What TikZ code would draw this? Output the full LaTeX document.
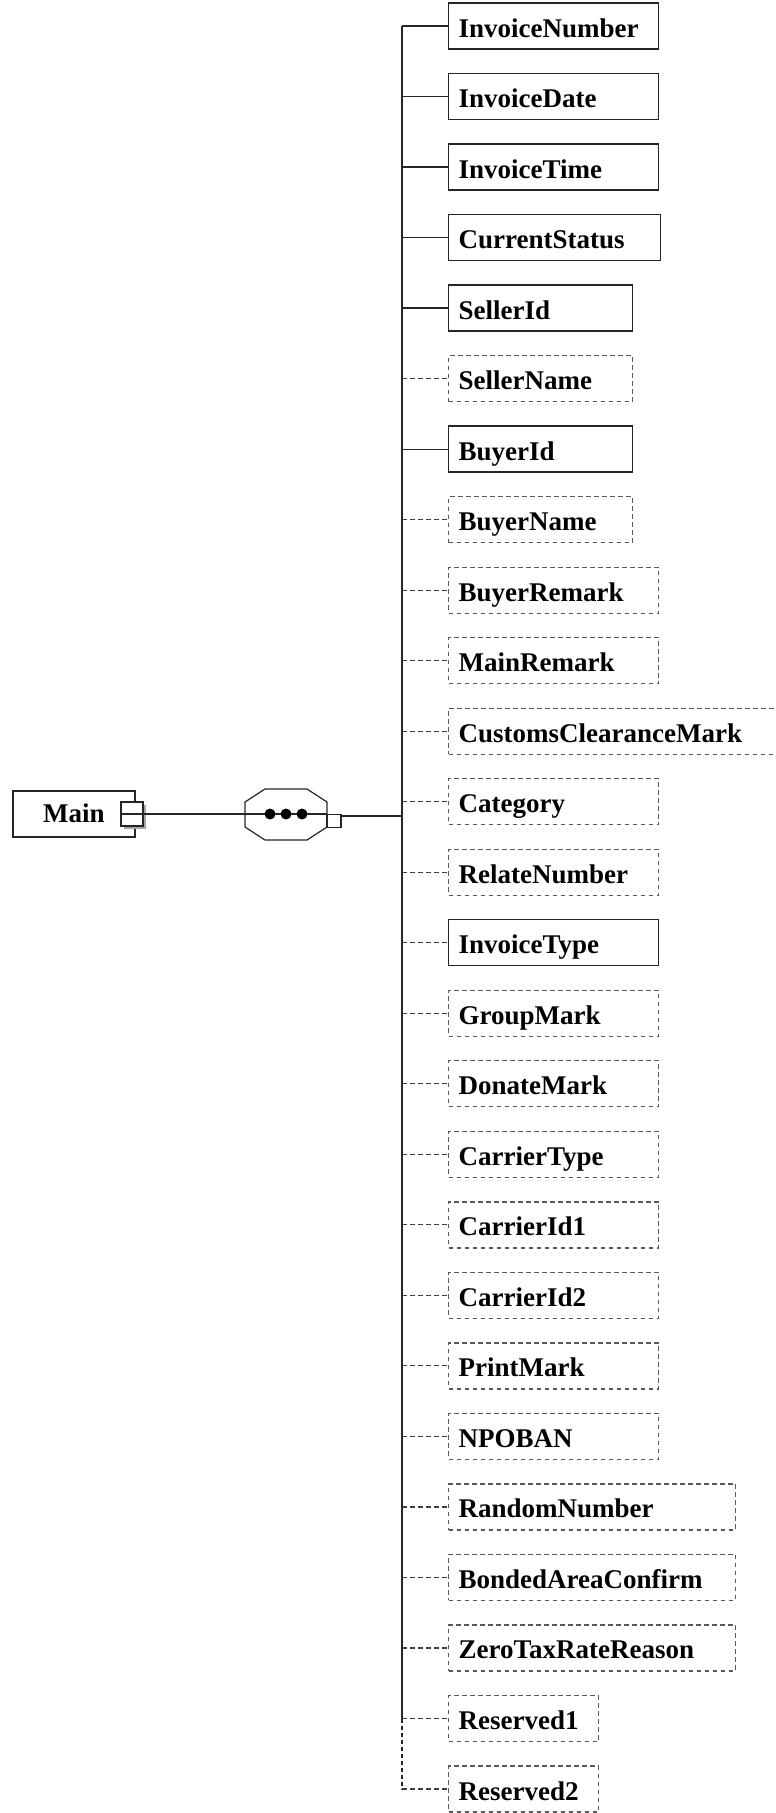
\documentclass[tikz,border=0pt]{standalone}
\usepackage{fontspec}
\setmainfont{Liberation Serif}
\begin{document}
\begin{tikzpicture}[x=1pt,y=-1pt,
  lblfont/.style={font=\fontsize{27}{30}\selectfont\bfseries},
  elbox/.style={lblfont, anchor=west, minimum height=46pt, inner xsep=10pt, inner ysep=0pt,
    text height=22pt, text depth=0pt, align=left, line width=1.3pt},
  elsolid/.style={elbox, draw=black!85},
  eldash/.style={elbox, draw=black!65, dash pattern=on 4.5pt off 3.5pt},
  consolid/.style={draw=black!85, line width=1.2pt},
  condash/.style={draw=black!75, line width=1.2pt, dash pattern=on 4.5pt off 3.5pt},
  spine/.style={draw=black!85, line width=2pt},
]
\useasboundingbox (0,0) rectangle (776,1813);
\coordinate (sp) at (402,0);

% Main element
\node[lblfont, draw=black!85, line width=1.2pt, minimum width=122pt, minimum height=46pt,
  text height=16pt, text depth=0pt, inner sep=0pt] (main) at (74,814) {Main};
\fill[black!35] (124,805) rectangle (146,829);
\node[draw=black!85, fill=white, line width=1.3pt, minimum width=22pt, minimum height=24pt, inner sep=0pt] (mq) at (132,814) {};
\draw[black!85, line width=1.2pt] (mq.west) -- (mq.east);

% Sequence compositor
\node[minimum width=82pt, minimum height=51pt, inner sep=0pt] (seq) at (286,814) {};
\draw[black!85, line width=1.2pt, fill=white]
  (265,789) -- (307,789) -- (327,802) -- (327,827) -- (307,840) -- (265,840) -- (245,827) -- (245,802) -- cycle;
\draw[black!85, line width=1.2pt] (mq.east) -- (seq.west);
\draw[black!85, line width=1.2pt] (seq.west) -- (seq.east);
\foreach \dx in {270,286,302} \fill[black] (\dx,814) circle (5.5pt);
\node[draw=black!85, fill=white, line width=1.2pt, minimum width=14pt, minimum height=13pt, inner sep=0pt] (cq) at (334,821) {};
\coordinate (cqo) at (341,815.5);
\draw[spine] (cqo) -- (cqo -| sp);

% Child elements
\foreach \i/\nm/\rx/\bs/\cs in {
  0/InvoiceNumber/658/elsolid/consolid,
  1/InvoiceDate/658/elsolid/consolid,
  2/InvoiceTime/658/elsolid/consolid,
  3/CurrentStatus/660/elsolid/consolid,
  4/SellerId/632/elsolid/consolid,
  5/SellerName/632/eldash/condash,
  6/BuyerId/632/elsolid/consolid,
  7/BuyerName/632/eldash/condash,
  8/BuyerRemark/658/eldash/condash,
  9/MainRemark/658/eldash/condash,
  10/CustomsClearanceMark/775.5/eldash/condash,
  11/Category/658/eldash/condash,
  12/RelateNumber/658/eldash/condash,
  13/InvoiceType/658/elsolid/condash,
  14/GroupMark/658/eldash/condash,
  15/DonateMark/658/eldash/condash,
  16/CarrierType/658/eldash/condash,
  17/CarrierId1/658/eldash/condash,
  18/CarrierId2/658/eldash/condash,
  19/PrintMark/658/eldash/condash,
  20/NPOBAN/658/eldash/condash,
  21/RandomNumber/735/eldash/condash,
  22/BondedAreaConfirm/735/eldash/condash,
  23/ZeroTaxRateReason/735/eldash/condash,
  24/Reserved1/598/eldash/condash,
  25/Reserved2/598/eldash/condash}{
  \pgfmathsetmacro\yy{26+70.52*\i}
  \pgfmathsetmacro\ww{\rx-448}
  \node[\bs, minimum width=\ww pt, text width=\ww pt - 20pt] (n\i) at (448,\yy) {\nm};
  \draw[\cs] (n\i.west -| sp) -- (n\i.west);
}

% Spine
\draw[spine] (n0.west -| sp) -- (n24.west -| sp);
\draw[spine, dash pattern=on 4.5pt off 2.5pt] (n24.west -| sp) -- (n25.west -| sp);
\end{tikzpicture}
\end{document}
